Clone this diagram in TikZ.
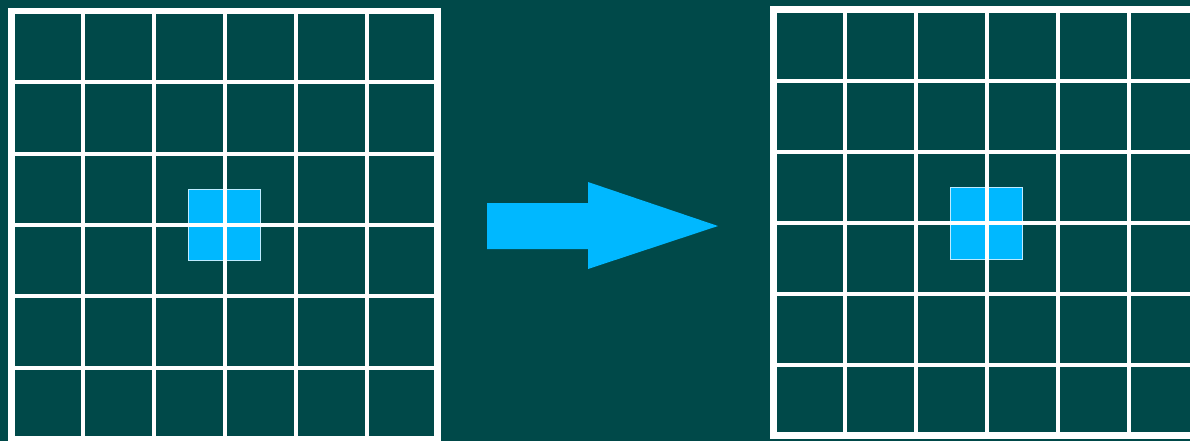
\documentclass[tikz,border=0pt]{standalone}
\usetikzlibrary{calc}
\definecolor{bgteal}{RGB}{0,73,73}
\definecolor{hiblue}{RGB}{0,184,255}
\definecolor{hiedge}{RGB}{190,235,255}
\tikzset{
  gridline/.style={draw=white, line width=2pt},
  frameline/.style={draw=white, line width=3.4pt},
  hibox/.style={fill=hiblue, draw=hiedge, line width=0.4pt},
  bigarrow/.style={fill=hiblue, draw=none}
}
\begin{document}
\begin{tikzpicture}[x=0.5pt, y=-0.5pt]
  \useasboundingbox (0,0) rectangle (1190,441);
  \clip (0,0) rectangle (1190,441);
  \fill[bgteal] (0,0) rectangle (1190,441);

  % left grid
  \coordinate (L0) at (11.5,11);
  \coordinate (L1) at (437.5,439);
  \path[hibox] (188,189) rectangle (260,260);
  \foreach \i in {1,...,5} {
    \draw[gridline] ({11.5+71*\i},11) -- ({11.5+71*\i},439);
    \draw[gridline] (11.5,{11+71.33*\i}) -- (437.5,{11+71.33*\i});
  }
  \draw[frameline] (L0) rectangle (L1);

  % arrow
  \path[bigarrow] (487,203) -- (588,203) -- (588,182) -- (718,226)
    -- (588,269) -- (588,249) -- (487,249) -- cycle;

  % right grid
  \coordinate (R0) at (773.5,9.5);
  \coordinate (R1) at (1199.5,435.5);
  \path[hibox] (950.5,187.5) rectangle (1022.5,259.5);
  \foreach \i in {1,...,5} {
    \draw[gridline] ({773.5+71*\i},9.5) -- ({773.5+71*\i},435.5);
    \draw[gridline] (773.5,{9.5+71*\i}) -- (1199.5,{9.5+71*\i});
  }
  \draw[frameline] (R0) rectangle (R1);
\end{tikzpicture}
\end{document}
